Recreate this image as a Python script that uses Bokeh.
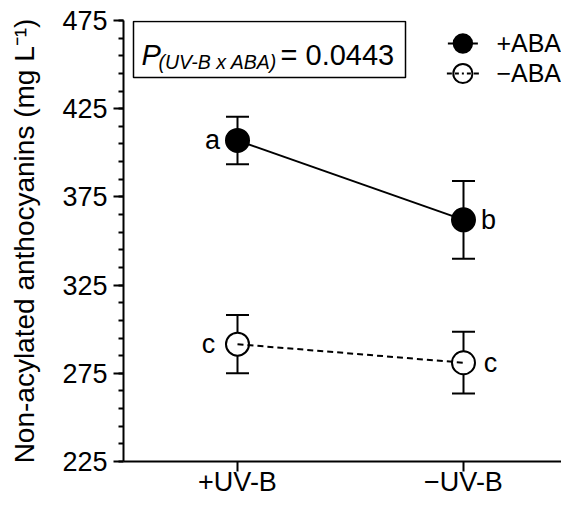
from bokeh.plotting import figure
from bokeh.models import (ColumnDataSource, Whisker, TeeHead, Legend, LegendItem,
                          Label, BoxAnnotation, FixedTicker, Range1d)
from bokeh.embed import file_html
from bokeh.resources import INLINE
from bokeh.core.properties import value

# ---- data ----
categories = ["+UV-B", "\u2212UV-B"]
x_pos = [1, 2]
plus_aba_mean = [407, 362]
plus_aba_err = [13.5, 22]
minus_aba_mean = [291.5, 281]
minus_aba_err = [16.5, 17.5]
plus_aba_letters = ["a", "b"]
minus_aba_letters = ["c", "c"]
y_ticks = [225, 275, 325, 375, 425, 475]
y_minor_ticks = [t for t in range(225, 476, 10)]
p_value = "0.0443"
series_labels = ["+ABA", "\u2212ABA"]

FONT = "Liberation Sans"
plus_letter_offsets = [-25, 25]
minus_letter_offsets = [-29, 27]

p = figure(frame_width=438, frame_height=441, output_backend="svg",
           toolbar_location=None,
           x_range=Range1d(0.49558, 2.43363), y_range=Range1d(225, 475),
           min_border_left=123, min_border_right=0, min_border_top=20,
           min_border_bottom=0)
p.outline_line_color = None
p.xgrid.visible = False
p.ygrid.visible = False

# axes
xa = p.xaxis[0]
xa.ticker = FixedTicker(ticks=x_pos)
xa.major_label_overrides = {x: c for x, c in zip(x_pos, categories)}
xa.axis_line_width = 2
xa.major_tick_line_width = 2
xa.major_tick_in = 0
xa.major_tick_out = 10
xa.minor_tick_line_color = None
xa.major_label_standoff = -5
xa.major_label_text_font = FONT
xa.major_label_text_font_size = "27px"
xa.major_label_text_color = "black"

ya = p.yaxis[0]
ya.ticker = FixedTicker(ticks=y_ticks, minor_ticks=y_minor_ticks)
ya.axis_line_width = 2
ya.major_tick_line_width = 2
ya.minor_tick_line_width = 2
ya.major_tick_in = 0
ya.major_tick_out = 10
ya.minor_tick_in = 0
ya.minor_tick_out = 5
ya.major_label_standoff = 6
ya.major_label_text_font = FONT
ya.major_label_text_font_size = "27px"
ya.major_label_text_color = "black"
ya.axis_label = "Non-acylated anthocyanins (mg L\u207b\u00b9)"
ya.axis_label_text_font = FONT
ya.axis_label_text_font_size = "28px"
ya.axis_label_text_font_style = "normal"
ya.axis_label_text_color = "black"
ya.axis_label_standoff = 19

src_plus = ColumnDataSource(dict(
    x=x_pos, y=plus_aba_mean,
    upper=[m + e for m, e in zip(plus_aba_mean, plus_aba_err)],
    lower=[m - e for m, e in zip(plus_aba_mean, plus_aba_err)],
    letters=plus_aba_letters, off=plus_letter_offsets))
src_minus = ColumnDataSource(dict(
    x=x_pos, y=minus_aba_mean,
    upper=[m + e for m, e in zip(minus_aba_mean, minus_aba_err)],
    lower=[m - e for m, e in zip(minus_aba_mean, minus_aba_err)],
    letters=minus_aba_letters, off=minus_letter_offsets))

for src in (src_plus, src_minus):
    w = Whisker(source=src, base="x", upper="upper", lower="lower",
                line_color="black", line_width=2,
                upper_head=TeeHead(size=23, line_width=2, line_color="black"),
                lower_head=TeeHead(size=23, line_width=2, line_color="black"))
    p.add_layout(w)

line_plus = p.line("x", "y", source=src_plus, line_color="black", line_width=2)
sc_plus = p.scatter("x", "y", source=src_plus, size=23, marker="circle",
                    fill_color="black", line_color="black", line_width=2)

sc_minus = p.scatter("x", "y", source=src_minus, size=23, marker="circle",
                     fill_color="white", line_color="black", line_width=2)
line_minus = p.line("x", "y", source=src_minus, line_color="black", line_width=2,
                    line_dash="6 4")

for src in (src_plus, src_minus):
    p.text("x", "y", text="letters", source=src, x_offset="off",
           text_align="center", text_baseline="middle",
           text_font=value(FONT), text_font_size="27px", text_color="black")

# legend line samples: zero-length segments at the points (invisible in the
# plot), whose dash pattern gives a short stub either side of the legend marker
leg_line_plus = p.segment(x0="x", y0="y", x1="x", y1="y", source=src_plus,
                          line_color="black", line_width=2, line_cap="butt",
                          line_dash="0 9 30 9")
leg_line_minus = p.segment(x0="x", y0="y", x1="x", y1="y", source=src_minus,
                           line_color="black", line_width=2, line_cap="butt",
                           line_dash="0 8 5 3 4 3 2 3 4 3 5 8")

common = dict(location="top_right", margin=0, padding=0, spacing=0,
              glyph_width=48, label_standoff=10,
              label_text_font=FONT, label_text_font_size="25px",
              label_text_color="black", background_fill_alpha=0,
              border_line_color=None)
legend1 = Legend(items=[LegendItem(label=series_labels[0],
                                   renderers=[leg_line_plus, sc_plus])],
                 glyph_height=46, **common)
legend2 = Legend(items=[LegendItem(label=series_labels[1],
                                   renderers=[sc_minus, leg_line_minus])],
                 glyph_height=106, **common)
p.add_layout(legend1)
p.add_layout(legend2)

# interaction P box
p.add_layout(BoxAnnotation(left=0.5398, right=1.7434, bottom=442.7, top=474.4,
                           fill_color=None, fill_alpha=0, line_color="black",
                           line_alpha=1.0, line_width=1.5))
p.add_layout(Label(x=0.5752, y=455.7, text="P", text_font=FONT,
                   text_font_size="29px", text_font_style="italic",
                   text_baseline="alphabetic", text_color="black"))
p.add_layout(Label(x=0.6505, y=451.2, text="(UV-B x ABA)", text_font=FONT,
                   text_font_size="19.5px", text_font_style="italic",
                   text_baseline="alphabetic", text_color="black"))
p.add_layout(Label(x=1.1903, y=455.7, text="= " + p_value, text_font=FONT,
                   text_font_size="29px", text_baseline="alphabetic",
                   text_color="black"))

open("out.html", "w").write(file_html(p, INLINE))
